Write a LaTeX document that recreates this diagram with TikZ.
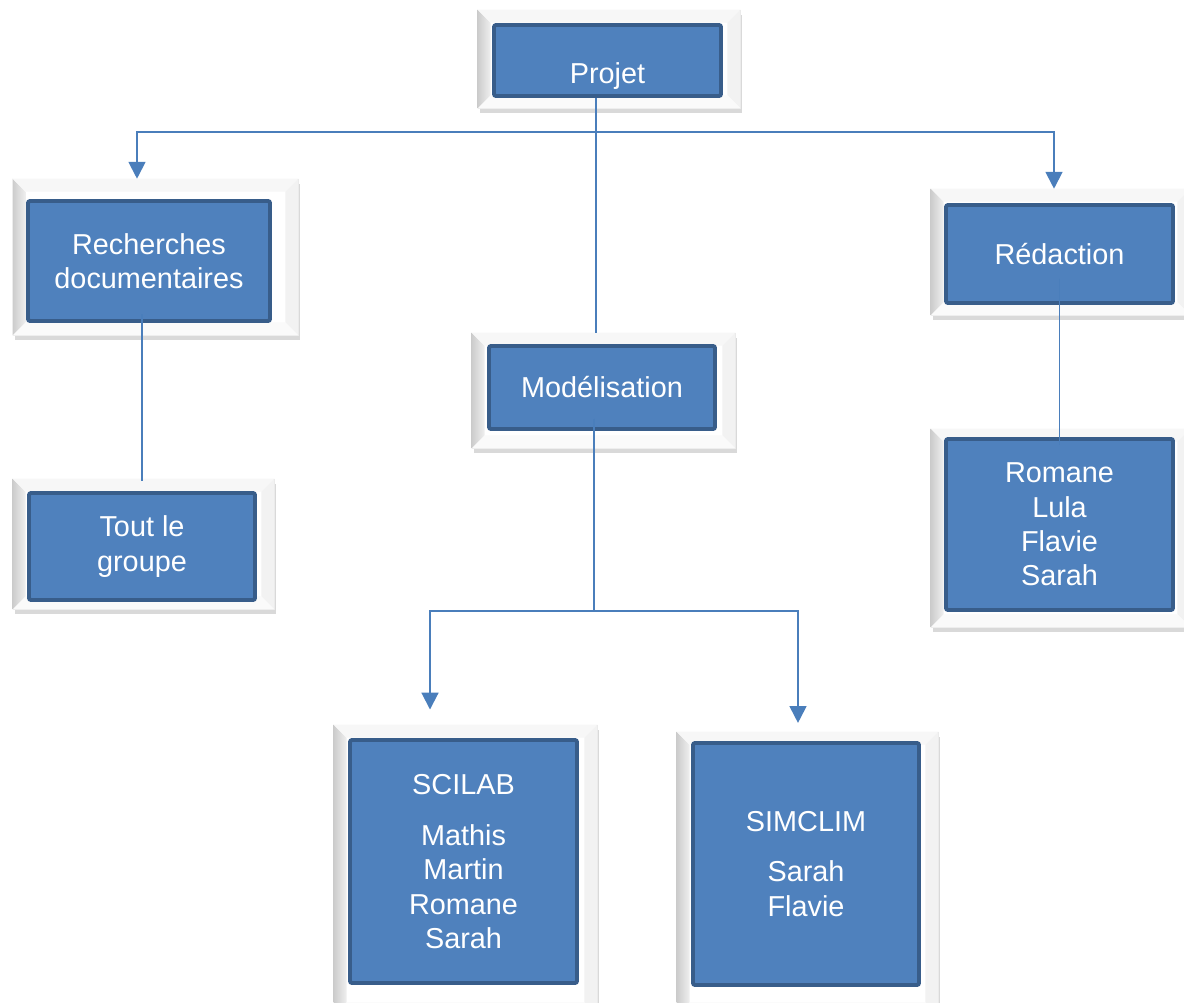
\documentclass[tikz,border=0pt]{standalone}
\usepackage{fontspec}
\setmainfont{Liberation Sans}
\usepackage{xcolor}
\usepackage{tikz}
\usetikzlibrary{arrows.meta,shadows,calc}

\definecolor{bleu}{RGB}{79,129,189}
\definecolor{bordure}{RGB}{56,93,138}
\definecolor{trait}{RGB}{74,126,187}
\newcommand{\pxu}{0.025cm}

\begin{document}
\begin{tikzpicture}[
    x=\pxu, y=-\pxu,
    cadre/.style={rectangle, draw=gray!18, fill=white, inner sep=0pt,
        drop shadow={shadow xshift=0.06cm, shadow yshift=-0.12cm, opacity=0.3}},
    bloc/.style={rectangle, draw=bordure, fill=bleu, line width=2.8pt, rounded corners=1.5pt,
        text=white, align=center, inner sep=0pt, font=\fontsize{20.5}{24.5}\selectfont},
    taille/.style 2 args={minimum width=#1*\pxu, minimum height=#2*\pxu},
    lien/.style={draw=trait, line width=1.4pt},
    fleche/.style={lien, -{Triangle[width=0.42cm, length=0.42cm]}}
]
    \useasboundingbox (0,0) rectangle (1184,1002);
    \clip (0,0) rectangle (1184,1002);

    % Frames
    \node[cadre, taille={262}{98}] (projetF) at (609,59) {};
    \node[cadre, taille={285}{156}] (recherchesF) at (155.5,257) {};
    \node[cadre, taille={263}{115}] (modelisationF) at (603.5,390.5) {};
    \node[cadre, taille={259}{126}] (redactionF) at (1060.5,252) {};
    \node[cadre, taille={261}{130}] (groupeF) at (143.5,544) {};
    \node[cadre, taille={259}{198}] (nomsF) at (1060.5,528) {};
    \node[cadre, taille={263}{290}] (scilabF) at (465.5,870) {};
    \node[cadre, taille={261}{283}] (simclimF) at (807.5,873.5) {};

    % Bevel edges
    \foreach \f in {projetF, recherchesF, modelisationF, redactionF, groupeF, nomsF, scilabF, simclimF} {
        \shade[left color=gray!40, right color=gray!12]
            (\f.north west) -- (\f.south west) -- ($(\f.south west)+(13,-13)$) -- ($(\f.north west)+(13,13)$) -- cycle;
        \fill[gray!6]
            (\f.north west) -- (\f.north east) -- ($(\f.north east)+(-13,13)$) -- ($(\f.north west)+(13,13)$) -- cycle;
        \fill[gray!10]
            (\f.north east) -- (\f.south east) -- ($(\f.south east)+(-13,-13)$) -- ($(\f.north east)+(-13,13)$) -- cycle;
        \fill[gray!4]
            (\f.south west) -- (\f.south east) -- ($(\f.south east)+(-13,-13)$) -- ($(\f.south west)+(13,-13)$) -- cycle;
    }

    % Blue boxes
    \node[bloc, taille={227}{71}] (projet) at (607.5,60.5) {\raisebox{-0.38cm}[\height][\depth]{Projet}};
    \node[bloc, taille={242}{120}] (recherches) at (149,261) {Recherches\\documentaires};
    \node[bloc, taille={226}{83}] (modelisation) at (602,387.5) {Modélisation};
    \node[bloc, taille={227}{98}] (redaction) at (1059.5,254) {Rédaction};
    \node[bloc, taille={226}{107}] (groupe) at (142,546.5) {Tout le\\groupe};
    \node[bloc, taille={227}{171}] (noms) at (1059.5,524.5) {Romane\\Lula\\Flavie\\Sarah};
    \node[bloc, taille={227}{243}] (scilab) at (463.5,861.5) {SCILAB\\[12pt]Mathis\\Martin\\Romane\\Sarah};
    \node[bloc, taille={226}{242}] (simclim) at (806,864) {SIMCLIM\\[11pt]Sarah\\Flavie};

    % Connectors, first level
    \coordinate (hub) at (596,132);
    \coordinate (gauche) at (137,132);
    \coordinate (droite) at (1054,132);
    \draw[lien] (projet.south -| hub) -- (hub);
    \draw[fleche] (hub) -- (gauche) -- (gauche |- recherchesF.north);
    \draw[fleche] (hub) -- (droite) -- (droite |- redactionF.north);
    \draw[lien] (hub) -- (hub |- modelisationF.north);

    % Connectors, second level
    \coordinate (hub2) at (594,611);
    \coordinate (g2) at (430,611);
    \coordinate (d2) at (798,611);
    \draw[lien] ([yshift=0.3cm]modelisation.south -| hub2) -- (hub2);
    \draw[fleche, shorten >=0.38cm] (hub2) -- (g2) -- (g2 |- scilabF.north);
    \draw[fleche, shorten >=0.22cm] (hub2) -- (d2) -- (d2 |- simclimF.north);

    % Side links
    \draw[lien] ([yshift=0.22cm]recherches.south -| groupe.north) -- ([yshift=0.25cm]groupe.north);
    \draw[lien] ([yshift=0.65cm]redaction.south) -- ([yshift=-0.2cm]noms.north);
\end{tikzpicture}
\end{document}
